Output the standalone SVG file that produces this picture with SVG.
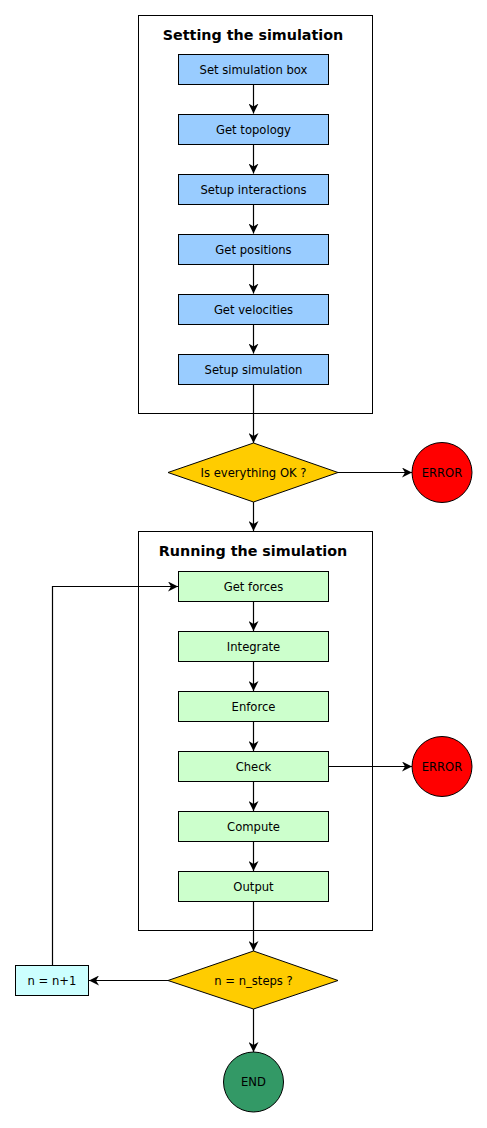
<svg xmlns="http://www.w3.org/2000/svg" width="487" height="1128" viewBox="0 0 487 1128">
<defs>
<marker id="arr" viewBox="0 0 10 10" refX="10" refY="5" markerWidth="10" markerHeight="10" markerUnits="userSpaceOnUse" orient="auto">
<path d="M0,0 L10,5 L0,10 L3,5 Z" fill="#000"/>
</marker>
<style>
text{font-family:"DejaVu Sans","Liberation Sans",sans-serif;font-size:11.6px;fill:#000;text-anchor:middle}
.title{font-size:14.3px;font-weight:bold}
.frame{fill:#fff;stroke:#000;stroke-width:1}
.blue{fill:#99CCFF;stroke:#000;stroke-width:1}
.green{fill:#CCFFCC;stroke:#000;stroke-width:1}
.dec{fill:#FFCC00;stroke:#000;stroke-width:1}
.err{fill:#FF0000;stroke:#000;stroke-width:1}
.end{fill:#339966;stroke:#000;stroke-width:1}
.inc{fill:#CCFFFF;stroke:#000;stroke-width:1}
.c{fill:none;stroke:#000;stroke-width:1.2;marker-end:url(#arr)}
</style>
</defs>
<rect width="487" height="1128" fill="#fff"/>
<g id="setup-frame"><rect class="frame" x="138.5" y="15.5" width="234" height="398"/><text class="title" x="253" y="40">Setting the simulation</text></g>
<g id="run-frame"><rect class="frame" x="138.5" y="531.5" width="234" height="399"/><text class="title" x="253" y="556">Running the simulation</text></g>
<g id="connectors">
<line class="c" x1="253.5" y1="84" x2="253.5" y2="113.5"/>
<line class="c" x1="253.5" y1="144" x2="253.5" y2="173.5"/>
<line class="c" x1="253.5" y1="204" x2="253.5" y2="233.5"/>
<line class="c" x1="253.5" y1="264" x2="253.5" y2="293.5"/>
<line class="c" x1="253.5" y1="324" x2="253.5" y2="353.5"/>
<line class="c" x1="253.5" y1="384" x2="253.5" y2="443"/>
<line class="c" x1="338" y1="472.5" x2="412" y2="472.5"/>
<line class="c" x1="253.5" y1="502" x2="253.5" y2="531"/>
<line class="c" x1="253.5" y1="601" x2="253.5" y2="631"/>
<line class="c" x1="253.5" y1="661" x2="253.5" y2="691"/>
<line class="c" x1="253.5" y1="721" x2="253.5" y2="751"/>
<line class="c" x1="253.5" y1="781" x2="253.5" y2="811"/>
<line class="c" x1="253.5" y1="841" x2="253.5" y2="871"/>
<line class="c" x1="328" y1="766.5" x2="412" y2="766.5"/>
<line class="c" x1="253.5" y1="901" x2="253.5" y2="951"/>
<line class="c" x1="168" y1="980.5" x2="89" y2="980.5"/>
<polyline class="c" points="52.5,965 52.5,586.5 178,586.5"/>
<line class="c" x1="253.5" y1="1009" x2="253.5" y2="1052"/>
</g>
<g id="set-box"><rect class="blue" x="178.5" y="54.5" width="150" height="30"/><text x="253.5" y="73.5">Set simulation box</text></g>
<g id="get-topology"><rect class="blue" x="178.5" y="114.5" width="150" height="30"/><text x="253.5" y="133.5">Get topology</text></g>
<g id="setup-interactions"><rect class="blue" x="178.5" y="174.5" width="150" height="30"/><text x="253.5" y="193.5">Setup interactions</text></g>
<g id="get-positions"><rect class="blue" x="178.5" y="234.5" width="150" height="30"/><text x="253.5" y="253.5">Get positions</text></g>
<g id="get-velocities"><rect class="blue" x="178.5" y="294.5" width="150" height="30"/><text x="253.5" y="313.5">Get velocities</text></g>
<g id="setup-simulation"><rect class="blue" x="178.5" y="354.5" width="150" height="30"/><text x="253.5" y="373.5">Setup simulation</text></g>
<g id="check-ok"><polygon class="dec" points="253.5,443 338,472.5 253.5,502 168,472.5"/><text x="253.5" y="476.5">Is everything OK ?</text></g>
<g id="error1"><circle class="err" cx="442" cy="472.5" r="30"/><text x="442" y="476.5">ERROR</text></g>
<g id="get-forces"><rect class="green" x="178.5" y="571.5" width="150" height="30"/><text x="253.5" y="590.5">Get forces</text></g>
<g id="integrate"><rect class="green" x="178.5" y="631.5" width="150" height="30"/><text x="253.5" y="650.5">Integrate</text></g>
<g id="enforce"><rect class="green" x="178.5" y="691.5" width="150" height="30"/><text x="253.5" y="710.5">Enforce</text></g>
<g id="check"><rect class="green" x="178.5" y="751.5" width="150" height="30"/><text x="253.5" y="770.5">Check</text></g>
<g id="compute"><rect class="green" x="178.5" y="811.5" width="150" height="30"/><text x="253.5" y="830.5">Compute</text></g>
<g id="output"><rect class="green" x="178.5" y="871.5" width="150" height="30"/><text x="253.5" y="890.5">Output</text></g>
<g id="error2"><circle class="err" cx="442" cy="766.5" r="30"/><text x="442" y="770.5">ERROR</text></g>
<g id="n-steps"><polygon class="dec" points="253.5,951 338,980.5 253.5,1009 168,980.5"/><text x="253.5" y="984.5">n = n_steps ?</text></g>
<g id="increment"><rect class="inc" x="15.5" y="965.5" width="73" height="30"/><text x="52" y="984.5">n = n+1</text></g>
<g id="end"><circle class="end" cx="253.5" cy="1082" r="30"/><text x="253.5" y="1086">END</text></g>
</svg>
